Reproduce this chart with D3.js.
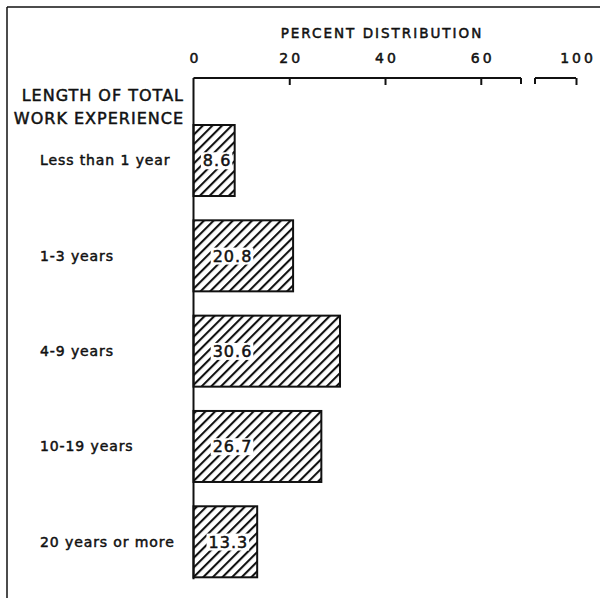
<!DOCTYPE html>
<html>
<head>
<meta charset="utf-8">
<script src="https://cdn.jsdelivr.net/npm/d3@7"></script>
<style>
  body { margin: 0; background: #fff; }
  text { font-family: "DejaVu Sans", sans-serif; fill: #111; }
  .ink { stroke: #111; stroke-width: 0.5px; }
</style>
</head>
<body>
<svg id="chart" width="600" height="602"></svg>
<script>
// data
var categories = ["Less than 1 year", "1-3 years", "4-9 years", "10-19 years", "20 years or more"];
var percents = [8.6, 20.8, 30.6, 26.7, 13.3];
var tickValues = [0, 20, 40, 60, 100];
var axisTitle = "PERCENT DISTRIBUTION";
var groupTitle = ["LENGTH OF TOTAL", "WORK EXPERIENCE"];

var svg = d3.select("#chart");

// broken scale: 0..68.4 then a gap, then 91.4..100
var x = d3.scaleLinear()
  .domain([0, 68.4, 91.4, 100])
  .range([193.5, 521, 535, 576]);

var y = d3.scaleBand()
  .domain(categories)
  .range([112.85, 589.45])
  .paddingInner(0.255)
  .paddingOuter(0.1275);

var axisY = 78;

// hatch pattern
var defs = svg.append("defs");
var pat = defs.append("pattern")
  .attr("id", "hatch")
  .attr("patternUnits", "userSpaceOnUse")
  .attr("width", 6.8)
  .attr("height", 10)
  .attr("patternTransform", "rotate(45)");
pat.append("line")
  .attr("x1", 1).attr("y1", 0)
  .attr("x2", 1).attr("y2", 10)
  .attr("stroke", "#111")
  .attr("stroke-width", 2.2);

// frame (top and left only)
svg.append("line")
  .attr("x1", 7).attr("y1", 7).attr("x2", 600).attr("y2", 7)
  .attr("stroke", "#111").attr("stroke-width", 1.5);
svg.append("line")
  .attr("x1", 7).attr("y1", 7).attr("x2", 7).attr("y2", 598)
  .attr("stroke", "#111").attr("stroke-width", 1.5);

// axis title
svg.append("text")
  .attr("class", "ink")
  .attr("x", 382)
  .attr("y", 38)
  .attr("text-anchor", "middle")
  .style("font-size", "13.5px")
  .style("letter-spacing", "2px")
  .text(axisTitle);

// top axis, ticks pointing down
var axis = d3.axisTop(x)
  .tickValues(tickValues)
  .tickSizeInner(-7)
  .tickSizeOuter(0)
  .tickPadding(15)
  .tickFormat(d3.format("d"));

var gAxis = svg.append("g")
  .attr("transform", "translate(0," + axisY + ")")
  .call(axis);
gAxis.select(".domain").remove();
gAxis.selectAll(".tick line").attr("stroke", "#111").attr("stroke-width", 2);
gAxis.selectAll(".tick").filter(function(d) { return d === 0; }).select("line").remove();
gAxis.selectAll(".tick text")
  .attr("class", "ink")
  .attr("fill", "#111")
  .attr("dx", "1.5px")
  .style("font-family", "DejaVu Sans, sans-serif")
  .style("font-size", "14px")
  .style("letter-spacing", "3px");

// axis segments with the break
[[0, 68.4], [91.4, 100]].forEach(function(seg) {
  svg.append("line")
    .attr("x1", x(seg[0])).attr("x2", x(seg[1]))
    .attr("y1", axisY).attr("y2", axisY)
    .attr("stroke", "#111").attr("stroke-width", 2);
});
[68.4, 91.4].forEach(function(v) {
  svg.append("line")
    .attr("x1", x(v)).attr("x2", x(v))
    .attr("y1", axisY).attr("y2", axisY + 6)
    .attr("stroke", "#111").attr("stroke-width", 2);
});

// zero line
svg.append("line")
  .attr("x1", x(0)).attr("x2", x(0))
  .attr("y1", axisY).attr("y2", y(categories[4]) + y.bandwidth() + 2)
  .attr("stroke", "#111").attr("stroke-width", 2);

// group title
svg.selectAll(".gtitle")
  .data(groupTitle)
  .enter().append("text")
  .attr("class", "gtitle ink")
  .attr("x", 184)
  .attr("y", function(d, i) { return 101 + i * 22.5; })
  .attr("text-anchor", "end")
  .style("font-size", "16px")
  .style("letter-spacing", "1px")
  .text(function(d) { return d; });

// category labels
svg.selectAll(".cat")
  .data(categories)
  .enter().append("text")
  .attr("class", "cat ink")
  .attr("x", 40)
  .attr("y", function(d) { return y(d) + y.bandwidth() / 2; })
  .attr("dy", "0.35em")
  .style("font-size", "14px")
  .style("letter-spacing", "0.9px")
  .text(function(d) { return d; });

// bars
var rows = categories.map(function(c, i) { return { cat: c, val: percents[i] }; });

svg.selectAll(".bar")
  .data(rows)
  .enter().append("rect")
  .attr("class", "bar")
  .attr("x", x(0))
  .attr("y", function(d) { return y(d.cat); })
  .attr("width", function(d) { return x(d.val) - x(0); })
  .attr("height", y.bandwidth())
  .attr("fill", "url(#hatch)")
  .attr("stroke", "#111")
  .attr("stroke-width", 2);

// value labels on white patches
var lab = svg.selectAll(".val")
  .data(rows)
  .enter().append("g")
  .attr("class", "val");

lab.append("rect").attr("fill", "#fff");
lab.append("text")
  .attr("class", "ink")
  .attr("x", function(d) { return x(0) + Math.min((x(d.val) - x(0)) / 2 + 3, 39); })
  .attr("y", function(d) { return y(d.cat) + y.bandwidth() / 2; })
  .attr("dy", "0.36em")
  .attr("text-anchor", "middle")
  .style("font-size", "16px")
  .style("letter-spacing", "1px")
  .text(function(d) { return d.val.toFixed(1); });

lab.each(function() {
  var g = d3.select(this);
  var b = g.select("text").node().getBBox();
  g.select("rect")
    .attr("x", b.x - 2).attr("y", b.y + 1)
    .attr("width", b.width + 3).attr("height", b.height - 2);
});
</script>
</body>
</html>
